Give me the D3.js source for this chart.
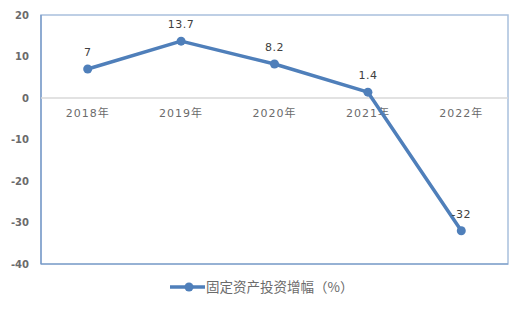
<!DOCTYPE html>
<html lang="zh">
<head>
    <meta charset="UTF-8">
    <title>固定资产投资增幅</title>
    <style>
        body { margin: 0; background: #fff; }
        svg { display: block; font-family: "DejaVu Sans", "Noto Sans CJK SC", sans-serif; }
    </style>
</head>
<body>
<script src="https://cdnjs.cloudflare.com/ajax/libs/d3/7.8.5/d3.min.js"></script>
<script>
    const years = ["2018年", "2019年", "2020年", "2021年", "2022年"];
    const growth = [7, 13.7, 8.2, 1.4, -32];
    const labels = ["7", "13.7", "8.2", "1.4", "-32"];
    const yTicks = [20, 10, 0, -10, -20, -30, -40];
    const seriesName = "固定资产投资增幅（%）";

    const width = 527, height = 309;
    const plot = {left: 41, right: 508, top: 15, bottom: 264};
    const lineColor = "#4f7fba";

    const svg = d3.select("body").append("svg")
        .attr("width", width)
        .attr("height", height);

    const x = d3.scaleBand().domain(years).range([plot.left, plot.right]);
    const y = d3.scaleLinear().domain([-40, 20]).range([plot.bottom, plot.top]);

    // frame
    svg.append("rect")
        .attr("x", plot.left).attr("y", plot.top)
        .attr("width", plot.right - plot.left).attr("height", plot.bottom - plot.top)
        .attr("fill", "none").attr("stroke", "#a9c0dd").attr("stroke-width", 1.5);
    svg.append("line")
        .attr("x1", plot.left).attr("x2", plot.left).attr("y1", plot.top).attr("y2", plot.bottom)
        .attr("stroke", "#6f93c4").attr("stroke-width", 1.2);
    svg.append("line")
        .attr("x1", plot.left).attr("x2", plot.right).attr("y1", plot.bottom).attr("y2", plot.bottom)
        .attr("stroke", "#6f93c4").attr("stroke-width", 1.2);

    // zero line
    svg.append("line")
        .attr("x1", plot.left).attr("x2", plot.right).attr("y1", y(0)).attr("y2", y(0))
        .attr("stroke", "#d9d9d9").attr("stroke-width", 1.5);

    // y tick labels
    svg.selectAll(".ytick").data(yTicks).enter().append("text")
        .attr("x", 29).attr("y", d => y(d))
        .attr("dy", "0.35em")
        .attr("text-anchor", "end")
        .attr("font-size", 10).attr("font-weight", "bold")
        .attr("fill", "#6b6b6b")
        .text(d => d);

    // x labels
    svg.selectAll(".xtick").data(years).enter().append("text")
        .attr("x", d => x(d) + x.bandwidth() / 2)
        .attr("y", 113).attr("dy", "0.35em")
        .attr("text-anchor", "middle")
        .attr("font-size", 11)
        .attr("letter-spacing", 1)
        .attr("fill", "#6b6b6b")
        .text(d => d);

    const px = (d, i) => x(years[i]) + x.bandwidth() / 2;

    svg.append("path")
        .datum(growth)
        .attr("fill", "none")
        .attr("stroke", lineColor)
        .attr("stroke-width", 3.5)
        .attr("stroke-linejoin", "round")
        .attr("d", d3.line().x(px).y(d => y(d)));

    svg.selectAll(".pt").data(growth).enter().append("circle")
        .attr("cx", px).attr("cy", d => y(d))
        .attr("r", 4.5).attr("fill", lineColor);

    svg.selectAll(".lbl").data(growth).enter().append("text")
        .attr("x", px).attr("y", d => y(d) - 17)
        .attr("dy", "0.35em")
        .attr("text-anchor", "middle")
        .attr("font-size", 11)
        .attr("letter-spacing", 0.5)
        .attr("fill", "#404040")
        .text((d, i) => labels[i]);

    // legend
    const lg = svg.append("g");
    lg.append("line")
        .attr("x1", 170).attr("x2", 205).attr("y1", 287).attr("y2", 287)
        .attr("stroke", lineColor).attr("stroke-width", 3.5);
    lg.append("circle").attr("cx", 189).attr("cy", 287).attr("r", 4.5).attr("fill", lineColor);
    lg.append("text")
        .attr("x", 206).attr("y", 287).attr("dy", "0.35em")
        .attr("font-family", "Noto Sans CJK SC, sans-serif")
        .attr("font-size", 13.5).attr("fill", "#6b6b6b")
        .text(seriesName);
</script>
</body>
</html>
